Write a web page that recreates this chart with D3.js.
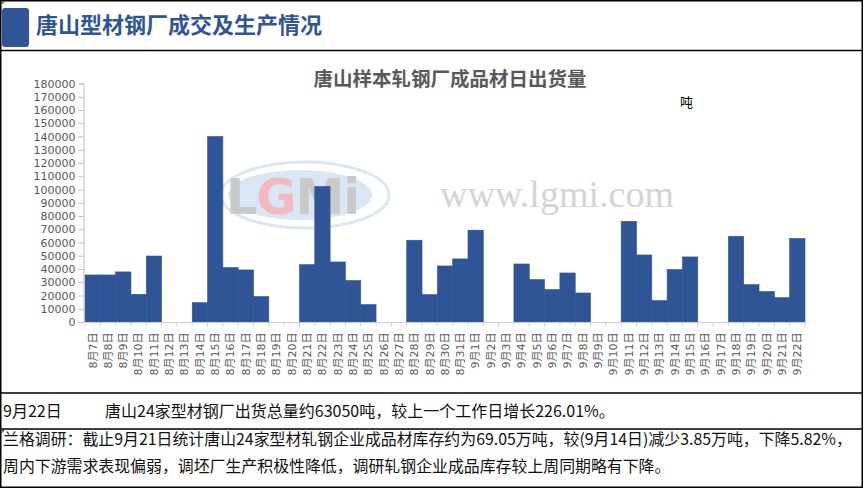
<!DOCTYPE html>
<html>
<head>
<meta charset="utf-8">
<script src="https://cdn.jsdelivr.net/npm/d3@7"></script>
<style>
  body { margin: 0; background: #fff; }
  svg { display: block; }
</style>
</head>
<body>
<div id="chart"></div>
<script>
const dateLabels = [
  "8月7日", "8月8日", "8月9日", "8月10日", "8月11日", "8月12日", "8月13日", "8月14日",
  "8月15日", "8月16日", "8月17日", "8月18日", "8月19日", "8月20日", "8月21日", "8月22日",
  "8月23日", "8月24日", "8月25日", "8月26日", "8月27日", "8月28日", "8月29日", "8月30日",
  "8月31日", "9月1日", "9月2日", "9月3日", "9月4日", "9月5日", "9月6日", "9月7日",
  "9月8日", "9月9日", "9月10日", "9月11日", "9月12日", "9月13日", "9月14日", "9月15日",
  "9月16日", "9月17日", "9月18日", "9月19日", "9月20日", "9月21日", "9月22日"
];
const shipments = [
  35500, 35500, 37800, 20900, 49800, 0, 0, 14600,
  140000, 41000, 39300, 19200, 0, 0, 43300, 102300,
  45300, 31300, 13100, 0, 0, 61700, 20700, 42300,
  47600, 69300, 0, 0, 43800, 32000, 24500, 37000,
  21900, 0, 0, 76000, 50600, 16200, 39600, 49100,
  0, 0, 64700, 28200, 23000, 18400, 63050
];
const yTicks = d3.range(0, 180001, 10000);

const pageTitle = "唐山型材钢厂成交及生产情况";
const chartTitle = "唐山样本轧钢厂成品材日出货量";
const unitLabel = "吨";
const noteDate = "9月22日";
const noteText = "唐山24家型材钢厂出货总量约63050吨，较上一个工作日增长226.01%。";
const surveyLines = [
  "兰格调研：截止9月21日统计唐山24家型材轧钢企业成品材库存约为69.05万吨，较(9月14日)减少3.85万吨，下降5.82%，",
  "周内下游需求表现偏弱，调坯厂生产积极性降低，调研轧钢企业成品库存较上周同期略有下降。"
];

const width = 864;
const height = 489;
const plot = { left: 85, right: 805, top: 83.5, bottom: 322 };
const barColor = "#2f5597";
const cjk = "'Noto Sans CJK SC', sans-serif";

const svg = d3.select("#chart")
  .append("svg")
  .attr("width", width)
  .attr("height", height);

// frame and table lines
svg.append("rect")
  .attr("x", 0.75).attr("y", 0.75)
  .attr("width", 861.5).attr("height", 486.5)
  .attr("fill", "none").attr("stroke", "#000").attr("stroke-width", 1.5);
[50.5, 393, 429].forEach(function(y) {
  svg.append("line")
    .attr("x1", 0).attr("x2", 862)
    .attr("y1", y).attr("y2", y)
    .attr("stroke", "#000").attr("stroke-width", 1.5);
});

// little green cell markers
svg.append("path").attr("d", "M1.5,1.5 L5,1.5 L1.5,5 Z").attr("fill", "#1a8a1a");
svg.append("path").attr("d", "M1.5,430 L5,430 L1.5,433.5 Z").attr("fill", "#1a8a1a");

// header
svg.append("rect")
  .attr("x", 2).attr("y", 8)
  .attr("width", 27).attr("height", 39)
  .attr("rx", 3)
  .attr("fill", barColor);
svg.append("text")
  .attr("x", 36).attr("y", 33)
  .attr("font-family", cjk)
  .attr("font-size", 22)
  .attr("font-weight", "bold")
  .attr("fill", barColor)
  .text(pageTitle);

// watermark
const wm = svg.append("g").attr("class", "watermark");
wm.append("ellipse")
  .attr("cx", 305).attr("cy", 195).attr("rx", 84).attr("ry", 33)
  .attr("fill", "none").attr("stroke", "#dbe7f3").attr("stroke-width", 3);
wm.append("ellipse")
  .attr("cx", 300).attr("cy", 195).attr("rx", 72).attr("ry", 25)
  .attr("fill", "#d9e6f3");
const wmText = wm.append("text")
  .attr("x", 226).attr("y", 214)
  .attr("font-family", "'DejaVu Sans', sans-serif")
  .attr("font-size", 49)
  .attr("font-weight", "bold")
  .attr("letter-spacing", -1);
wmText.append("tspan").attr("fill", "#c9c9c9").text("L");
wmText.append("tspan").attr("fill", "#f3b9c1").text("G");
wmText.append("tspan").attr("fill", "#c9c9c9").text("Mi");
wm.append("text")
  .attr("x", 440).attr("y", 207)
  .attr("font-family", "'Liberation Serif', serif")
  .attr("font-size", 38)
  .attr("fill", "#d4d4d4")
  .text("www.lgmi.com");

// scales
const x = d3.scaleBand()
  .domain(dateLabels)
  .range([plot.left, plot.right])
  .padding(0);

const y = d3.scaleLinear()
  .domain([0, 180000])
  .range([plot.bottom, plot.top]);

// bars
svg.append("g")
  .selectAll("rect")
  .data(shipments)
  .join("rect")
  .attr("x", function(d, i) { return x(dateLabels[i]); })
  .attr("y", function(d) { return y(d); })
  .attr("width", x.bandwidth())
  .attr("height", function(d) { return y(0) - y(d); })
  .attr("fill", barColor)
  .attr("stroke", barColor)
  .attr("stroke-width", function(d) { return d > 0 ? 0.6 : 0; });

// y axis
const yAxis = d3.axisLeft(y)
  .tickValues(yTicks)
  .tickSize(5)
  .tickPadding(3)
  .tickFormat(d3.format("d"));

const yAxisGroup = svg.append("g")
  .attr("class", "y axis")
  .attr("transform", "translate(" + (plot.left - 1.5) + ",0)")
  .call(yAxis);
yAxisGroup.select(".domain").attr("stroke", "#bfbfbf");
yAxisGroup.selectAll(".tick line").attr("stroke", "#bfbfbf");
yAxisGroup.selectAll(".tick text")
  .attr("fill", "#595959")
  .attr("font-family", "'DejaVu Sans', sans-serif")
  .attr("font-size", 11);

// x axis: ticks sit on band boundaries
const xAxisGroup = svg.append("g")
  .attr("class", "x axis")
  .attr("transform", "translate(0," + (plot.bottom + 0.5) + ")");
xAxisGroup.append("line")
  .attr("x1", plot.left).attr("x2", plot.right)
  .attr("stroke", "#d0d0d0");
xAxisGroup.selectAll("line.tick")
  .data(dateLabels.concat(["end"]))
  .join("line")
  .attr("class", "tick")
  .attr("x1", function(d, i) { return plot.left + i * x.bandwidth(); })
  .attr("x2", function(d, i) { return plot.left + i * x.bandwidth(); })
  .attr("y1", 0).attr("y2", 4)
  .attr("stroke", "#d0d0d0");
xAxisGroup.selectAll("text")
  .data(dateLabels)
  .join("text")
  .attr("transform", function(d) {
    return "translate(" + (x(d) + x.bandwidth() / 2) + ",10) rotate(-90)";
  })
  .attr("text-anchor", "end")
  .attr("dy", "0.35em")
  .attr("fill", "#595959")
  .attr("font-family", "'DejaVu Sans', " + cjk)
  .attr("font-size", 11)
  .text(function(d) { return d; });

// chart title and unit
svg.append("text")
  .attr("x", 450).attr("y", 86)
  .attr("text-anchor", "middle")
  .attr("font-family", cjk)
  .attr("font-size", 19.5)
  .attr("font-weight", "bold")
  .attr("fill", "#595959")
  .text(chartTitle);
svg.append("text")
  .attr("x", 680).attr("y", 107)
  .attr("font-family", cjk)
  .attr("font-size", 13)
  .attr("fill", "#000")
  .text(unitLabel);

// notes below chart
svg.append("text")
  .attr("x", 3).attr("y", 417)
  .attr("font-family", cjk)
  .attr("font-size", 16)
  .attr("fill", "#111")
  .text(noteDate);
svg.append("text")
  .attr("x", 105).attr("y", 417)
  .attr("font-family", cjk)
  .attr("font-size", 16)
  .attr("fill", "#111")
  .text(noteText);
svg.selectAll("text.survey")
  .data(surveyLines)
  .join("text")
  .attr("class", "survey")
  .attr("x", 3)
  .attr("y", function(d, i) { return 445 + i * 27; })
  .attr("font-family", cjk)
  .attr("font-size", 15.9)
  .attr("fill", "#111")
  .text(function(d) { return d; });
</script>
</body>
</html>
